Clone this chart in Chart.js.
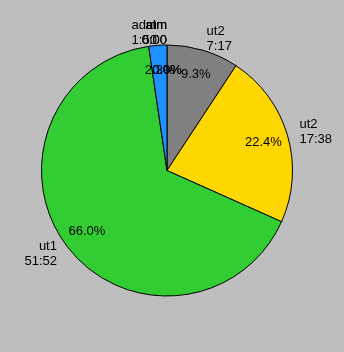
<!DOCTYPE html>
<html>
<head>
<meta charset="utf-8">
<script src="https://cdn.jsdelivr.net/npm/chart.js@4.4.1/dist/chart.umd.min.js"></script>
<style>
  html, body { margin: 0; padding: 0; background: #bebebe; }
  canvas { display: block; }
</style>
</head>
<body>
<canvas id="pie" width="344" height="352"></canvas>
<script>
// slice names, minutes spent, colours (clockwise from 12 o'clock)
var names = ['ut2', 'ut2', 'ut1', 'adm', 'atm', 'alm'];
var minutes = [437, 1058, 3112, 110, 0, 0];
var colors = ['#808080', '#ffd700', '#32cd32', '#1e90ff', '#ff0000', '#a020f0'];

function fmtTime(m) {
  var mm = m % 60;
  return Math.floor(m / 60) + ':' + (mm < 10 ? '0' : '') + mm;
}

var total = minutes.reduce(function (a, b) { return a + b; }, 0);

var sliceLabels = {
  id: 'sliceLabels',
  afterDatasetsDraw: function (chart) {
    var ctx = chart.ctx;
    var meta = chart.getDatasetMeta(0);
    ctx.save();
    ctx.font = '13px "Liberation Sans", Arial, sans-serif';
    ctx.fillStyle = '#000';
    ctx.textBaseline = 'middle';
    meta.data.forEach(function (arc, i) {
      var p = arc.getProps(['x', 'y', 'startAngle', 'endAngle', 'outerRadius'], true);
      var mid = (p.startAngle + p.endAngle) / 2;
      var c = Math.cos(mid), s = Math.sin(mid);
      // percent inside
      var pr = p.outerRadius * 0.8;
      ctx.textAlign = 'center';
      ctx.fillText((minutes[i] / total * 100).toFixed(1) + '%', p.x + c * pr, p.y + s * pr);
      // name + time outside
      var lr = p.outerRadius * 1.1;
      var lx = p.x + c * lr, ly = p.y + s * lr;
      ctx.textAlign = c >= 0 ? 'left' : 'right';
      ctx.fillText(names[i], lx, ly - 7);
      ctx.fillText(fmtTime(minutes[i]), lx, ly + 8);
    });
    ctx.restore();
  }
};

new Chart(document.getElementById('pie'), {
  type: 'pie',
  data: {
    labels: names,
    datasets: [{
      data: minutes,
      backgroundColor: colors,
      borderColor: '#000',
      borderWidth: 1
    }]
  },
  options: {
    responsive: false,
    animation: false,
    layout: { padding: { left: 41, right: 51, top: 44, bottom: 55 } },
    plugins: {
      legend: { display: false },
      tooltip: { enabled: false }
    }
  },
  plugins: [sliceLabels]
});
</script>
</body>
</html>
